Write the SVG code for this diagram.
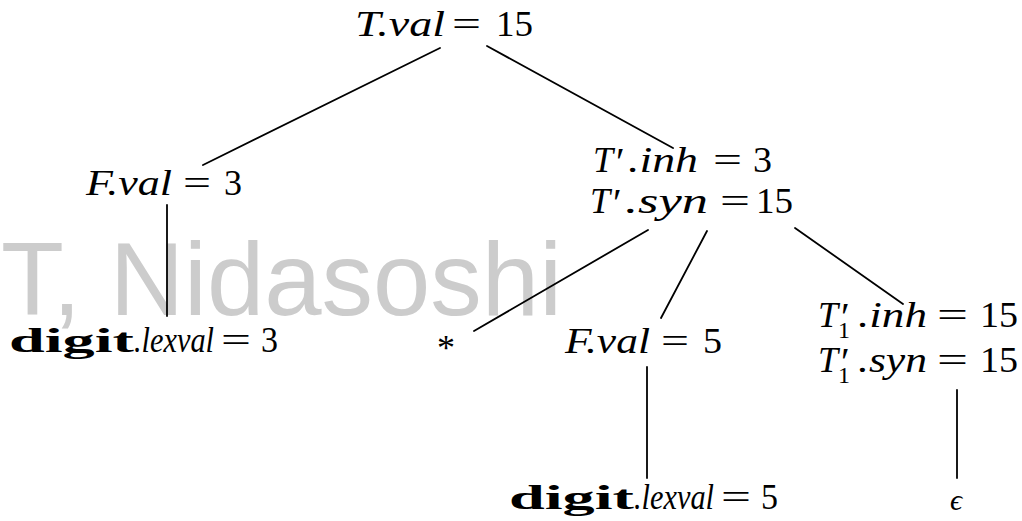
<svg xmlns="http://www.w3.org/2000/svg" width="1022" height="521" viewBox="0 0 1022 521">
<style>
.t{font-family:"Liberation Serif","DejaVu Serif",serif;font-size:36px;fill:#000}
.i{font-style:italic}
.b{font-weight:bold;font-size:33px}
.p{font-size:40px;font-style:normal}
.s{font-size:24px;font-style:normal}
.wm{font-family:"Liberation Sans",Arial,sans-serif;font-size:103px;fill:#cccccc}
.e{stroke:#000;stroke-width:1.8;fill:none;stroke-linecap:round}
</style>
<rect width="1022" height="521" fill="#fff"/>
<text class="wm" x="1" y="315">T, Nidasoshi</text>
<g id="connectors">
<line class="e" x1="440" y1="48" x2="203" y2="165"/>
<line class="e" x1="487" y1="46" x2="673" y2="148"/>
<line class="e" x1="167" y1="205" x2="167" y2="316"/>
<line class="e" x1="648" y1="230" x2="474" y2="331"/>
<line class="e" x1="707" y1="231" x2="661" y2="318"/>
<line class="e" x1="795" y1="228" x2="903" y2="304"/>
<line class="e" x1="647" y1="367" x2="647" y2="478"/>
<line class="e" x1="957" y1="390" x2="957" y2="478"/>
</g>
<g id="n-root">
<text class="t i" x="355" y="36" textLength="90" lengthAdjust="spacingAndGlyphs">T.val</text>
<text class="t" x="452" y="36" textLength="29" lengthAdjust="spacingAndGlyphs">=</text>
<text class="t" x="496" y="36" textLength="37" lengthAdjust="spacingAndGlyphs">15</text>
</g>
<g id="n-fval3">
<text class="t i" x="86" y="195" textLength="86" lengthAdjust="spacingAndGlyphs">F.val</text>
<text class="t" x="183" y="195" textLength="28" lengthAdjust="spacingAndGlyphs">=</text>
<text class="t" x="224" y="195" textLength="18" lengthAdjust="spacingAndGlyphs">3</text>
</g>
<g id="n-tprime">
<text class="t i" x="593" y="172">T<tspan class="p" x="616" y="175">′</tspan></text>
<text class="t i" x="628" y="172" textLength="70" lengthAdjust="spacingAndGlyphs">.inh</text>
<text class="t" x="713" y="172" textLength="29" lengthAdjust="spacingAndGlyphs">=</text>
<text class="t" x="753" y="172" textLength="19" lengthAdjust="spacingAndGlyphs">3</text>
<text class="t i" x="590" y="213">T<tspan class="p" x="613" y="216">′</tspan></text>
<text class="t i" x="625" y="213" textLength="83" lengthAdjust="spacingAndGlyphs">.syn</text>
<text class="t" x="720" y="213" textLength="30" lengthAdjust="spacingAndGlyphs">=</text>
<text class="t" x="756" y="213" textLength="37" lengthAdjust="spacingAndGlyphs">15</text>
</g>
<g id="n-digit3">
<text class="t b" x="9" y="352" textLength="125" lengthAdjust="spacingAndGlyphs">digit</text>
<text class="t i" x="134" y="352" textLength="80" lengthAdjust="spacingAndGlyphs">.lexval</text>
<text class="t" x="221" y="352" textLength="30" lengthAdjust="spacingAndGlyphs">=</text>
<text class="t" x="261" y="352" textLength="17" lengthAdjust="spacingAndGlyphs">3</text>
</g>
<g id="n-star">
<text class="t" x="446" y="360" text-anchor="middle">*</text>
</g>
<g id="n-fval5">
<text class="t i" x="565" y="353" textLength="85" lengthAdjust="spacingAndGlyphs">F.val</text>
<text class="t" x="661" y="353" textLength="28" lengthAdjust="spacingAndGlyphs">=</text>
<text class="t" x="703" y="353" textLength="19" lengthAdjust="spacingAndGlyphs">5</text>
</g>
<g id="n-t1prime">
<text class="t i" x="818" y="327">T<tspan class="p" x="841" y="330">′</tspan><tspan class="s" x="838" y="338">1</tspan></text>
<text class="t i" x="858" y="327" textLength="69" lengthAdjust="spacingAndGlyphs">.inh</text>
<text class="t" x="937" y="327" textLength="31" lengthAdjust="spacingAndGlyphs">=</text>
<text class="t" x="980" y="327" textLength="38" lengthAdjust="spacingAndGlyphs">15</text>
<text class="t i" x="818" y="372">T<tspan class="p" x="841" y="375">′</tspan><tspan class="s" x="838" y="383">1</tspan></text>
<text class="t i" x="858" y="372" textLength="69" lengthAdjust="spacingAndGlyphs">.syn</text>
<text class="t" x="937" y="372" textLength="31" lengthAdjust="spacingAndGlyphs">=</text>
<text class="t" x="980" y="372" textLength="38" lengthAdjust="spacingAndGlyphs">15</text>
</g>
<g id="n-digit5">
<text class="t b" x="509" y="509" textLength="125" lengthAdjust="spacingAndGlyphs">digit</text>
<text class="t i" x="634" y="509" textLength="80" lengthAdjust="spacingAndGlyphs">.lexval</text>
<text class="t" x="721" y="509" textLength="30" lengthAdjust="spacingAndGlyphs">=</text>
<text class="t" x="761" y="509" textLength="17" lengthAdjust="spacingAndGlyphs">5</text>
</g>
<g id="n-eps">
<text class="t i" x="956" y="510" text-anchor="middle" style="font-size:30px">ϵ</text>
</g>
</svg>
